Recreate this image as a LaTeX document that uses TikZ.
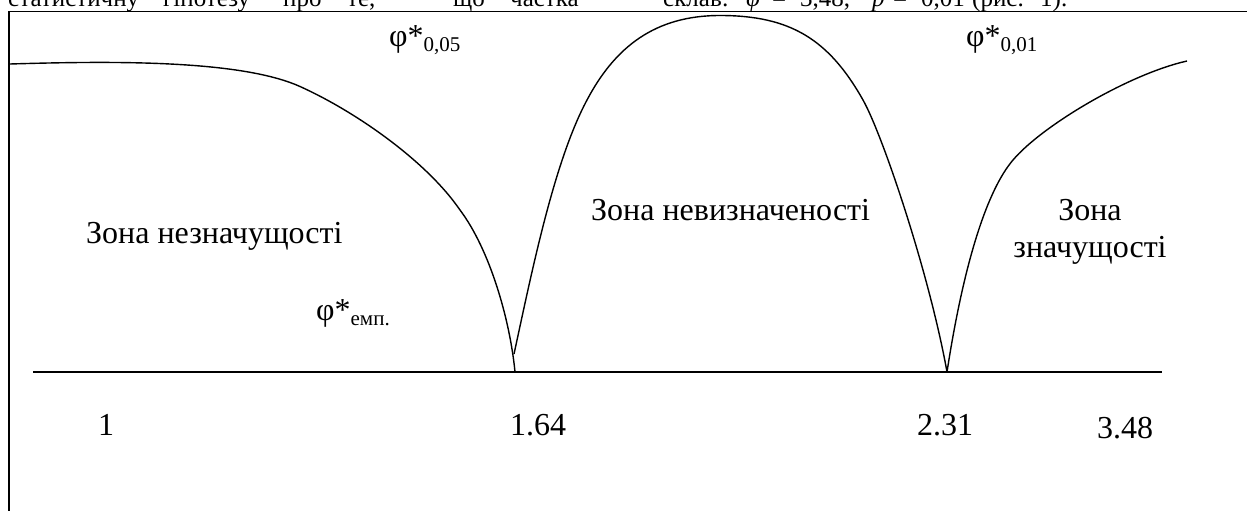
\documentclass[tikz,border=0pt]{standalone}
\usepackage{fontspec}
\setmainfont{Liberation Serif}
\newcommand\phisub[1]{\raisebox{-5pt}{\fontsize{21}{21}\selectfont #1}}
\begin{document}
\begin{tikzpicture}[x=1pt,y=-1pt,
  lbl/.style={inner sep=0pt, anchor=base west, font=\fontsize{32}{37}\selectfont},
  clbl/.style={inner sep=0pt, anchor=base, font=\fontsize{32}{37}\selectfont},
  toptext/.style={inner sep=0pt, anchor=base west, font=\fontsize{25}{30}\selectfont},
  curve/.style={line width=1.4pt, line join=round},
  frameline/.style={line width=1.8pt},
  axisline/.style={line width=2pt}]
\useasboundingbox (0,0) rectangle (1247,511);
% cut-off text line above the figure
\begin{scope}
\clip (0,0) rectangle (1247,10.5);
\node[toptext] (t1) at (8,7) {статистичну};
\node[toptext] (t2) at (163,7) {гіпотезу};
\node[toptext] (t3) at (283,7) {про};
\node[toptext] (t4) at (347,7) {те,};
\node[toptext] (t5) at (453,7) {що};
\node[toptext] (t6) at (510,7) {частка};
\node[toptext] (t7) at (663,7) {склав:};
\node[toptext] (t8) at (746,7) {\textit{φ}*};
\node[toptext] (t9) at (772,7) {=};
\node[toptext] (t10) at (800,7) {3,48,};
\node[toptext] (t11) at (872,7) {\textit{p}};
\node[toptext] (t12) at (893,7) {=};
\node[toptext] (t13) at (921,7) {0,01};
\node[toptext] (t14) at (972,7) {(рис.};
\node[toptext] (t15) at (1040,7) {1).};
\end{scope}
% frame
\coordinate (ftl) at (9,11.5);
\coordinate (fbl) at (9,511);
\coordinate (ftr) at (1247,11.5);
\draw[frameline] (fbl) -- (ftl) -- (ftr);
% axis
\coordinate (axl) at (33,372);
\coordinate (axr) at (1162,372);
\draw[axisline] (axl) -- (axr);
% left curve
\draw[curve] (10,64) .. controls (110,61) and (240,59.5) .. (300,86.5)
  .. controls (355,111.3) and (426,160.5) .. (460,210)
  .. controls (490,250) and (510,320) .. (515,372);
% middle curve
\draw[curve] (514,354) .. controls (532,271) and (554,161.6) .. (587,100)
  .. controls (615,47) and (655,15.5) .. (720,15.5)
  .. controls (790,15.5) and (828.7,39.1) .. (863,100)
  .. controls (882.6,134.8) and (929.3,273.6) .. (947,372);
% right curve
\draw[curve] (947,372) .. controls (963.7,263.3) and (987,190.4) .. (1013,160)
  .. controls (1042,125.8) and (1128.4,74.2) .. (1187,61);
% labels
\node[lbl] (p05) at (389,47) {φ*\phisub{0,05}};
\node[lbl] (p01) at (966,47) {φ*\phisub{0,01}};
\node[lbl] (pemp) at (316,320) {φ*\phisub{емп.}};
\node[lbl] (z1) at (86,243) {Зона незначущості};
\node[lbl] (z2) at (591,220) {Зона невизначеності};
\node[clbl] (z3) at (1090,220) {\begin{tabular}[t]{@{}c@{}}Зона\\значущості\end{tabular}};
\node[clbl] (n1) at (106,435) {1};
\node[clbl] (n2) at (538,435) {1.64};
\node[clbl] (n3) at (945,435) {2.31};
\node[clbl] (n4) at (1125,438) {3.48};
\end{tikzpicture}
\end{document}
